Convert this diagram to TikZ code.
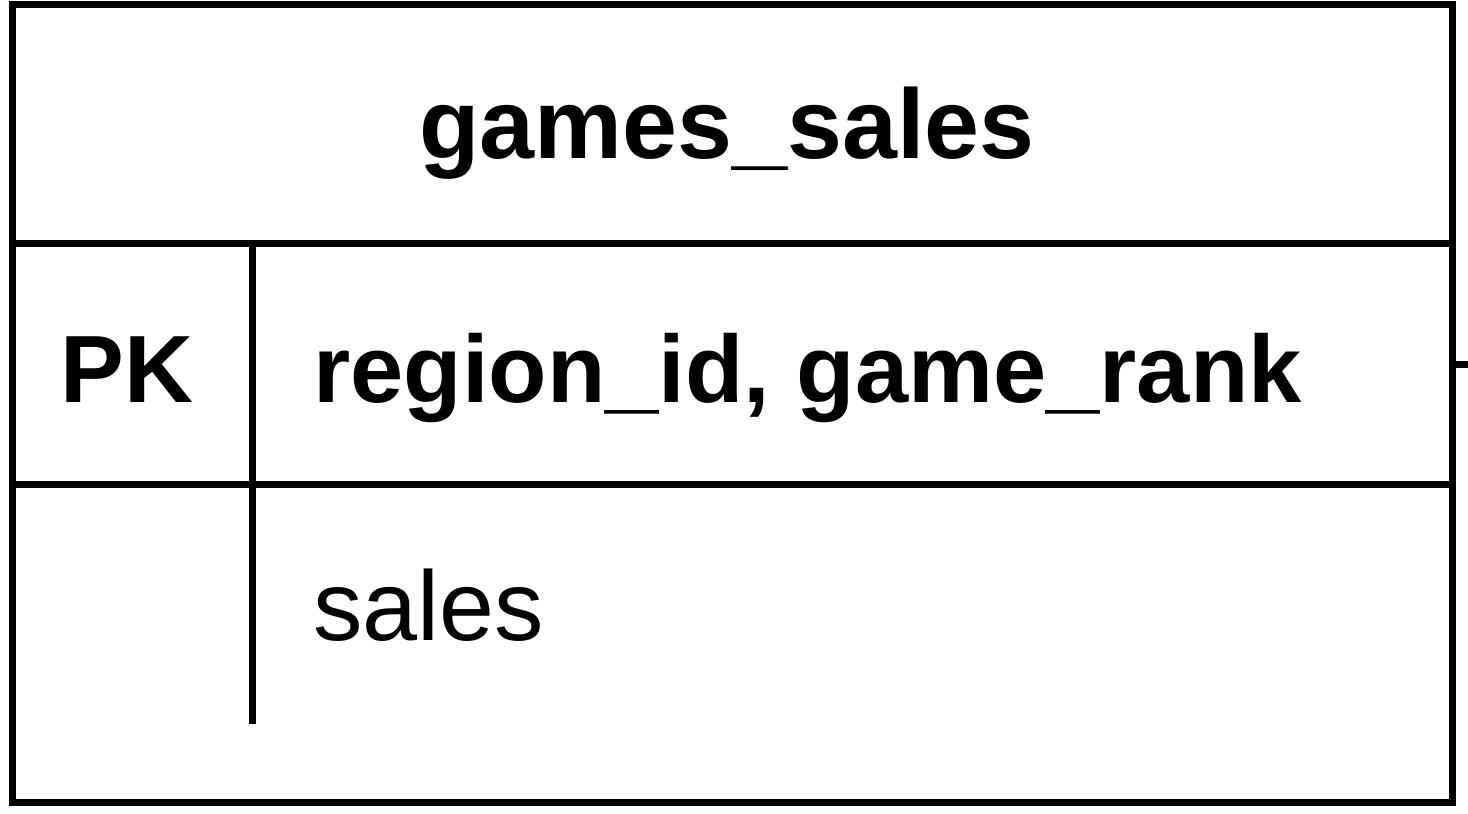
\documentclass[tikz,border=0pt]{standalone}
\usepackage{fontspec}
\setmainfont{Liberation Sans}
\usetikzlibrary{positioning}

\begin{document}
\begin{tikzpicture}[x=0.5pt, y=-0.5pt, line width=3.5pt,
  field/.style={inner sep=0pt, font=\fontsize{49.4}{54}\selectfont},
  keyfield/.style={field, font=\fontsize{47.8}{52}\selectfont\bfseries},
  tablename/.style={field, font=\fontsize{49.4}{54}\selectfont\bfseries}
]
\useasboundingbox (0,0) rectangle (1468,814);
% table frame
\draw (12,4.5) rectangle (1452,802);
\draw (12,243) -- (1452,243);
\draw (12,484) -- (1452,484);
\draw (252,243) -- (252,724);
% texts
\node[tablename, anchor=base] (title) at (727,158) {games\_sales};
\node[keyfield, anchor=base] (pk) at (127,402) {PK};
\node[keyfield, anchor=base west] (pkcols) at (310,402) {region\_id, game\_rank};
\node[field, anchor=base west] (sales) at (310,640) {sales};
% relation stub
\coordinate (rowend) at (1452,364);
\coordinate (stub) at (1468,364);
\draw (rowend) -- (stub);
\end{tikzpicture}
\end{document}
